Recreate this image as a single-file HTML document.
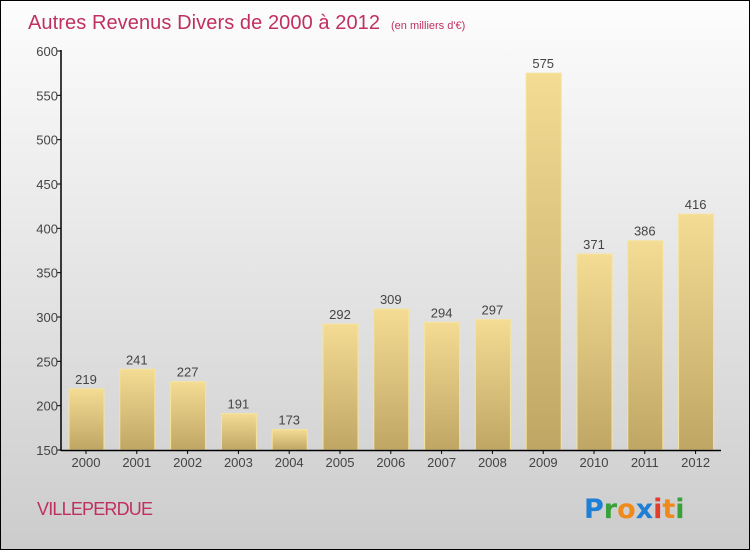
<!DOCTYPE html>
<html><head><meta charset="utf-8"><style>
body{margin:0}
#c{position:relative;width:748px;height:548px;border:1px solid #000;background:linear-gradient(#fdfdfd,#cccccc);font-family:"Liberation Sans",sans-serif;overflow:hidden}
</style></head><body>
<div id="c">
<svg id="s" width="748" height="548" style="position:absolute;left:0;top:0">
<defs><linearGradient id="g" x1="0" y1="0" x2="0" y2="1"><stop offset="0" stop-color="#f4dc94"/><stop offset="1" stop-color="#c0a664"/></linearGradient></defs>
<text x="27" y="28" font-size="20" fill="#c0305f" textLength="352">Autres Revenus Divers de 2000 à 2012</text>
<text x="390" y="28" font-size="11" fill="#c0305f">(en milliers d'€)</text>
<text x="36" y="514" font-size="18" fill="#c0305f" textLength="116">VILLEPERDUE</text>
<g font-size="27" font-weight="bold" font-family="'DejaVu Sans',sans-serif">
<text x="583" y="517"><tspan fill="#1e7fd6">P</tspan><tspan fill="#3aa03a">r</tspan><tspan fill="#f08a1c">o</tspan><tspan fill="#1e7fd6">x</tspan><tspan fill="#e23c2c">i</tspan><tspan fill="#f08a1c">t</tspan><tspan fill="#3aa03a">i</tspan></text></g>
<g id="plot"></g>
</svg>
</div>
<script>
const categories=["2000","2001","2002","2003","2004","2005","2006","2007","2008","2009","2010","2011","2012"];
const values=[219,241,227,191,173,292,309,294,297,575,371,386,416];
const ticks=[150,200,250,300,350,400,450,500,550,600];
const NS="http://www.w3.org/2000/svg";
const p=document.getElementById('plot');
const y=v=>449-(v-150)*(399/450);
const x=i=>85+i*50.8;
function mk(t,a){const e=document.createElementNS(NS,t);for(const k in a)e.setAttribute(k,a[k]);p.appendChild(e);return e;}
ticks.forEach(t=>{
 const l=mk('line',{x1:56,x2:60,y1:y(t),y2:y(t),stroke:'#000'});
 
 
 const tx=mk('text',{x:57,y:y(t)+5,'text-anchor':'end','font-size':13,fill:'#444'});tx.textContent=t;
 
 
});
values.forEach((v,i)=>{
 const r=mk('rect',{x:x(i)-17,y:y(v),width:35,height:y(150)-y(v),fill:'url(#g)',stroke:'#f6e39c','stroke-width':1});
 
 
 const t=mk('text',{x:x(i),y:y(v)-5,'text-anchor':'middle','font-size':13,fill:'#444'});t.textContent=v;
 
 
 const c=mk('text',{x:x(i),y:466,'text-anchor':'middle','font-size':13,fill:'#444'});c.textContent=categories[i];
 
 
 const tk=mk('line',{x1:x(i),x2:x(i),y1:449,y2:453,stroke:'#000'});
 
 
});
const ya=mk('line',{x1:60,x2:60,y1:49,y2:450,stroke:'#000','stroke-width':1.5});


const xa=mk('line',{x1:60,x2:720,y1:449.5,y2:449.5,stroke:'#000','stroke-width':1.5});


</script>
</body></html>
